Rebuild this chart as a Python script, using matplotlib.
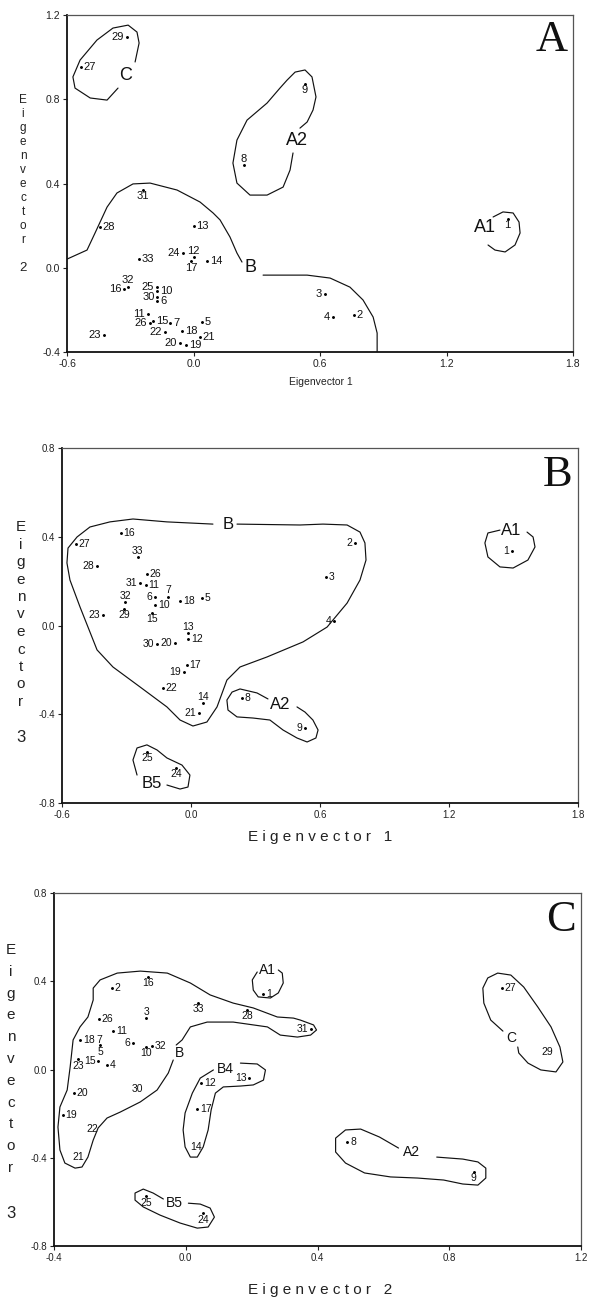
import matplotlib
matplotlib.use("Agg")
import matplotlib.pyplot as plt

plt.rcParams["font.family"] = ["Liberation Sans", "DejaVu Sans"]

ids = [str(i) for i in range(1, 34)]

# ---- Panel A: eigenvector 1 (x) vs eigenvector 2 (y)
a_x = [1.49, 0.761, 0.624, 0.662, 0.04, -0.172, -0.11, 0.24, 0.529, -0.172,
       -0.216, 0.0, 0.0, 0.064, -0.19, -0.33, -0.01, -0.055, -0.035, -0.064,
       0.03, -0.135, -0.424, -0.05, -0.175, -0.206, -0.534, -0.443, -0.315, -0.172,
       -0.24, -0.31, -0.258]
a_y = [0.231, -0.225, -0.125, -0.234, -0.257, -0.158, -0.26, 0.488, 0.872, -0.11,
       -0.22, 0.05, 0.2, 0.032, -0.253, -0.10, 0.03, -0.30, -0.367, -0.357,
       -0.33, -0.305, -0.32, 0.07, -0.092, -0.26, 0.953, 0.193, 1.095, -0.139,
       0.369, -0.09, 0.041]
a_side = "brllrrrabrlarrrlbrrlrlllllrrllbar"

a_outline_C = [(-0.358, 0.853), (-0.41, 0.796), (-0.49, 0.806), (-0.562, 0.853),
               (-0.572, 0.906), (-0.538, 0.986), (-0.458, 1.081), (-0.382, 1.138),
               (-0.31, 1.152), (-0.268, 1.119), (-0.258, 1.067), (-0.277, 0.977)]
a_outline_A2 = [(0.505, 0.663), (0.539, 0.692), (0.567, 0.749), (0.581, 0.811),
                (0.562, 0.906), (0.529, 0.939), (0.482, 0.929), (0.444, 0.891),
                (0.41, 0.853), (0.349, 0.782), (0.254, 0.701), (0.206, 0.606),
                (0.187, 0.497), (0.206, 0.402), (0.268, 0.345), (0.349, 0.345),
                (0.425, 0.383), (0.458, 0.464), (0.472, 0.545)]
a_outline_A1 = [(1.421, 0.241), (1.468, 0.265), (1.516, 0.26), (1.544, 0.217),
                (1.549, 0.165), (1.525, 0.108), (1.478, 0.075), (1.43, 0.084),
                (1.397, 0.108)]
a_outline_B1 = [(-0.6, 0.041), (-0.505, 0.084), (-0.467, 0.165), (-0.41, 0.288),
                (-0.363, 0.355), (-0.287, 0.398), (-0.206, 0.402), (-0.078, 0.369),
                (0.031, 0.312), (0.093, 0.26), (0.126, 0.227), (0.173, 0.146),
                (0.206, 0.07), (0.23, 0.027)]
a_outline_B2 = [(0.33, -0.035), (0.41, -0.035), (0.539, -0.035), (0.648, -0.049),
                (0.742, -0.092), (0.804, -0.153), (0.852, -0.234), (0.871, -0.31),
                (0.871, -0.4)]
a_groups = [("C", -0.32, 0.915), ("A2", 0.49, 0.606), ("A1", 1.383, 0.189),
            ("B", 0.268, 0.003)]

# ---- Panel B: eigenvector 1 (x) vs eigenvector 3 (y)
b_x = [1.493, 0.763, 0.628, 0.665, 0.051, -0.167, -0.107, 0.237, 0.53, -0.167,
       -0.21, -0.014, -0.014, 0.056, -0.181, -0.326, -0.019, -0.051, -0.033, -0.074,
       0.037, -0.13, -0.409, -0.07, -0.205, -0.205, -0.535, -0.437, -0.312, -0.158,
       -0.237, -0.307, -0.247]
b_y = [0.336, 0.372, 0.219, 0.02, 0.124, 0.129, 0.129, -0.327, -0.462, 0.092,
       0.183, -0.061, -0.034, -0.349, 0.056, 0.417, -0.178, 0.11, -0.209, -0.08,
       -0.394, -0.282, 0.047, -0.642, -0.57, 0.232, 0.367, 0.268, 0.074, -0.083,
       0.192, 0.106, 0.309]
b_side = "llrlrlarlrrraabrrrlllrlbbrrlbllaa"

b_outline_B = [(0.214, 0.457), (0.507, 0.453), (0.614, 0.457), (0.726, 0.453),
               (0.786, 0.421), (0.809, 0.372), (0.814, 0.295), (0.786, 0.205),
               (0.726, 0.101), (0.633, -0.007), (0.521, -0.074), (0.353, -0.142),
               (0.228, -0.187), (0.167, -0.246), (0.121, -0.367), (0.074, -0.435),
               (0.009, -0.453), (-0.051, -0.426), (-0.112, -0.367), (-0.237, -0.277),
               (-0.363, -0.187), (-0.437, -0.11), (-0.516, 0.083), (-0.563, 0.205),
               (-0.577, 0.282), (-0.572, 0.349), (-0.53, 0.399), (-0.47, 0.444),
               (-0.377, 0.467), (-0.27, 0.48), (-0.112, 0.467), (0.102, 0.457)]
b_outline_A1 = [(1.437, 0.43), (1.381, 0.417), (1.367, 0.372), (1.381, 0.309),
                (1.437, 0.264), (1.498, 0.259), (1.567, 0.295), (1.6, 0.354),
                (1.591, 0.399), (1.563, 0.421)]
b_outline_A2 = [(0.358, -0.331), (0.307, -0.304), (0.228, -0.286), (0.191, -0.3),
                (0.167, -0.336), (0.172, -0.381), (0.214, -0.412), (0.288, -0.417),
                (0.367, -0.426), (0.428, -0.471), (0.493, -0.507), (0.54, -0.525),
                (0.581, -0.507), (0.591, -0.471), (0.567, -0.426), (0.53, -0.39),
                (0.493, -0.367)]
b_outline_B5 = [(-0.251, -0.674), (-0.27, -0.606), (-0.251, -0.552), (-0.205, -0.538),
                (-0.158, -0.561), (-0.112, -0.597), (-0.042, -0.629), (-0.005, -0.674),
                (-0.014, -0.728), (-0.051, -0.737), (-0.112, -0.719)]
b_groups = [("B", 0.172, 0.457), ("A1", 1.488, 0.43), ("A2", 0.414, -0.354),
            ("B5", -0.181, -0.71)]

# ---- Panel C: eigenvector 2 (x) vs eigenvector 3 (y)
c_x = [0.236, -0.224, -0.12, -0.239, -0.26, -0.16, -0.262, 0.491, 0.874, -0.12,
       -0.221, 0.047, 0.193, 0.03, -0.265, -0.114, 0.035, -0.321, -0.373, -0.339,
       -0.327, -0.284, -0.327, 0.053, -0.12, -0.263, 0.959, 0.187, 1.099, -0.148,
       0.379, -0.102, 0.038]
c_y = [0.342, 0.369, 0.233, 0.02, 0.11, 0.12, 0.134, -0.329, -0.465, 0.102,
       0.174, -0.061, -0.039, -0.351, 0.04, 0.419, -0.179, 0.134, -0.206, -0.107,
       -0.397, -0.27, 0.047, -0.651, -0.574, 0.229, 0.369, 0.27, 0.079, -0.089,
       0.183, 0.106, 0.301]
c_side = "rrarblcrbbrrlclbrrrrccbbbrrbcclrb"

c_outline_B1 = [(-0.038, 0.043), (-0.053, -0.016), (-0.087, -0.093), (-0.138, -0.147),
                (-0.199, -0.193), (-0.239, -0.22), (-0.266, -0.265), (-0.281, -0.32),
                (-0.297, -0.397), (-0.315, -0.442), (-0.336, -0.447), (-0.367, -0.424),
                (-0.382, -0.365), (-0.388, -0.261), (-0.382, -0.17), (-0.36, -0.093),
                (-0.351, 0.011), (-0.342, 0.134), (-0.321, 0.193), (-0.297, 0.238),
                (-0.281, 0.315), (-0.281, 0.369), (-0.26, 0.406), (-0.208, 0.437),
                (-0.138, 0.446), (-0.056, 0.437), (0.014, 0.392), (0.074, 0.338),
                (0.144, 0.301), (0.205, 0.279), (0.278, 0.238), (0.327, 0.233),
                (0.348, 0.224), (0.388, 0.202), (0.397, 0.179), (0.379, 0.156),
                (0.339, 0.147), (0.287, 0.156), (0.248, 0.193), (0.144, 0.215),
                (0.065, 0.215), (0.014, 0.193), (-0.011, 0.134), (-0.029, 0.111)]
c_outline_B4 = [(0.166, 0.029), (0.217, 0.025), (0.242, -0.002), (0.236, -0.048),
                (0.205, -0.07), (0.166, -0.075), (0.114, -0.079), (0.09, -0.107),
                (0.077, -0.184), (0.068, -0.274), (0.053, -0.351), (0.035, -0.397),
                (0.014, -0.397), (-0.002, -0.351), (-0.008, -0.274), (-0.002, -0.197),
                (0.02, -0.107), (0.044, -0.039), (0.084, -0.002)]
c_outline_B5 = [(-0.068, -0.587), (-0.099, -0.56), (-0.129, -0.542), (-0.154, -0.56),
                (-0.154, -0.592), (-0.129, -0.623), (-0.078, -0.66), (-0.017, -0.696),
                (0.035, -0.719), (0.068, -0.714), (0.087, -0.669), (0.074, -0.628),
                (0.044, -0.61), (0.008, -0.606)]
c_outline_A1 = [(0.217, 0.442), (0.202, 0.406), (0.205, 0.36), (0.22, 0.329),
                (0.257, 0.324), (0.281, 0.347), (0.296, 0.392), (0.293, 0.437),
                (0.281, 0.451)]
c_outline_C = [(0.963, 0.174), (0.926, 0.224), (0.905, 0.301), (0.902, 0.369),
               (0.917, 0.415), (0.947, 0.437), (0.987, 0.428), (1.026, 0.374),
               (1.069, 0.283), (1.109, 0.193), (1.136, 0.102), (1.145, 0.034),
               (1.124, -0.011), (1.078, -0.002), (1.039, 0.029), (1.011, 0.075),
               (1.008, 0.102)]
c_outline_A2 = [(0.646, -0.356), (0.588, -0.306), (0.531, -0.27), (0.485, -0.274),
                (0.455, -0.311), (0.455, -0.374), (0.485, -0.424), (0.543, -0.469),
                (0.622, -0.487), (0.704, -0.492), (0.783, -0.501), (0.841, -0.519),
                (0.887, -0.524), (0.911, -0.492), (0.911, -0.447), (0.887, -0.419),
                (0.841, -0.406), (0.762, -0.397)]
c_groups = [("A1", 0.248, 0.451), ("B", -0.02, 0.075), ("B4", 0.12, 0.002),
            ("C", 0.987, 0.143), ("A2", 0.686, -0.374), ("B5", -0.035, -0.606)]

# label placement relative to the dot (points)
OFF = {"r": (2.0, 0, "left", "center"), "l": (-2.0, 0, "right", "center"),
       "a": (0, 1.0, "center", "bottom"), "b": (0, -1.0, "center", "top"),
       "c": (0, 0, "center", "center")}

W, H = 594, 1301
fig = plt.figure(figsize=(W / 100, H / 100), dpi=100)


def add_axes(left, top, right, bottom):
    return fig.add_axes([left / W, 1 - bottom / H, (right - left) / W, (bottom - top) / H])


def draw_panel(ax, xs, ys, sides, outlines, groups, xticks, yticks, xlim, ylim,
               letter, num_fs, grp_fs, tick_fs):
    for x, y, s, name in zip(xs, ys, sides, ids):
        if s != "c":
            ax.plot(x, y, ".", color="black", markersize=2.2)
        dx, dy, ha, va = OFF[s]
        ax.annotate(name, (x, y), xytext=(dx, dy), textcoords="offset points",
                    ha=ha, va=va, fontsize=num_fs, color="#111")
    for pts in outlines:
        ax.plot([p[0] for p in pts], [p[1] for p in pts], color="#111",
                lw=0.85, solid_joinstyle="round", solid_capstyle="round")
    for txt, x, y in groups:
        ax.text(x, y, txt, ha="center", va="center", fontsize=grp_fs, color="#111")
    ax.set_xlim(*xlim)
    ax.set_ylim(*ylim)
    ax.set_xticks(xticks)
    ax.set_xticklabels([f"{t:.1f}" for t in xticks])
    ax.set_yticks(yticks)
    ax.set_yticklabels([f"{t:.1f}" for t in yticks])
    ax.tick_params(direction="out", length=3, width=0.8, labelsize=tick_fs,
                   pad=2, colors="#222")
    for side in ("left", "bottom"):
        ax.spines[side].set_linewidth(1.3)
        ax.spines[side].set_color("#111")
    for side in ("top", "right"):
        ax.spines[side].set_linewidth(0.9)
        ax.spines[side].set_color("#555")
    ax.text(0.99, 0.893, letter, transform=ax.transAxes, ha="right", va="baseline",
            fontsize=32, family="Liberation Serif", color="#111")


def vertical_label(x, y0, step, word, digit, y_digit, fs):
    for i, ch in enumerate(word):
        fig.text(x / W, 1 - (y0 + i * step) / H, ch, ha="center", va="center",
                 fontsize=fs, color="#222")
    fig.text(x / W, 1 - y_digit / H, digit, ha="center", va="center",
             fontsize=fs + 1, color="#222")


axA = add_axes(67, 15, 573, 352)
draw_panel(axA, a_x, a_y, a_side,
           [a_outline_C, a_outline_A2, a_outline_A1, a_outline_B1, a_outline_B2],
           a_groups, [-0.6, 0.0, 0.6, 1.2, 1.8], [-0.4, 0.0, 0.4, 0.8, 1.2],
           (-0.6, 1.8), (-0.4, 1.2), "A", 8, 13, 7.5)
fig.text(321 / W, 1 - 382 / H, "Eigenvector 1", ha="center", va="center",
         fontsize=7.5, color="#222")
vertical_label(23, 100, 14, "Eigenvector", "2", 268, 8.5)

axB = add_axes(62, 448, 578, 803)
draw_panel(axB, b_x, b_y, b_side,
           [b_outline_B, b_outline_A1, b_outline_A2, b_outline_B5],
           b_groups, [-0.6, 0.0, 0.6, 1.2, 1.8], [-0.8, -0.4, 0.0, 0.4, 0.8],
           (-0.6, 1.8), (-0.8, 0.8), "B", 7.5, 12, 7)
fig.text(320 / W, 1 - 837 / H, "E i g e n v e c t o r   1", ha="center",
         va="center", fontsize=11, color="#222")
vertical_label(21, 527, 17.5, "Eigenvector", "3", 737, 11)

axC = add_axes(54, 893, 581, 1246)
draw_panel(axC, c_x, c_y, c_side,
           [c_outline_B1, c_outline_B4, c_outline_B5, c_outline_A1, c_outline_C,
            c_outline_A2],
           c_groups, [-0.4, 0.0, 0.4, 0.8, 1.2], [-0.8, -0.4, 0.0, 0.4, 0.8],
           (-0.4, 1.2), (-0.8, 0.8), "C", 7.5, 10, 7)
fig.text(320 / W, 1 - 1290 / H, "E i g e n v e c t o r   2", ha="center",
         va="center", fontsize=11, color="#222")
vertical_label(11, 950, 21.8, "Eigenvector", "3", 1213, 11)

fig.savefig("out.png", dpi=100)
